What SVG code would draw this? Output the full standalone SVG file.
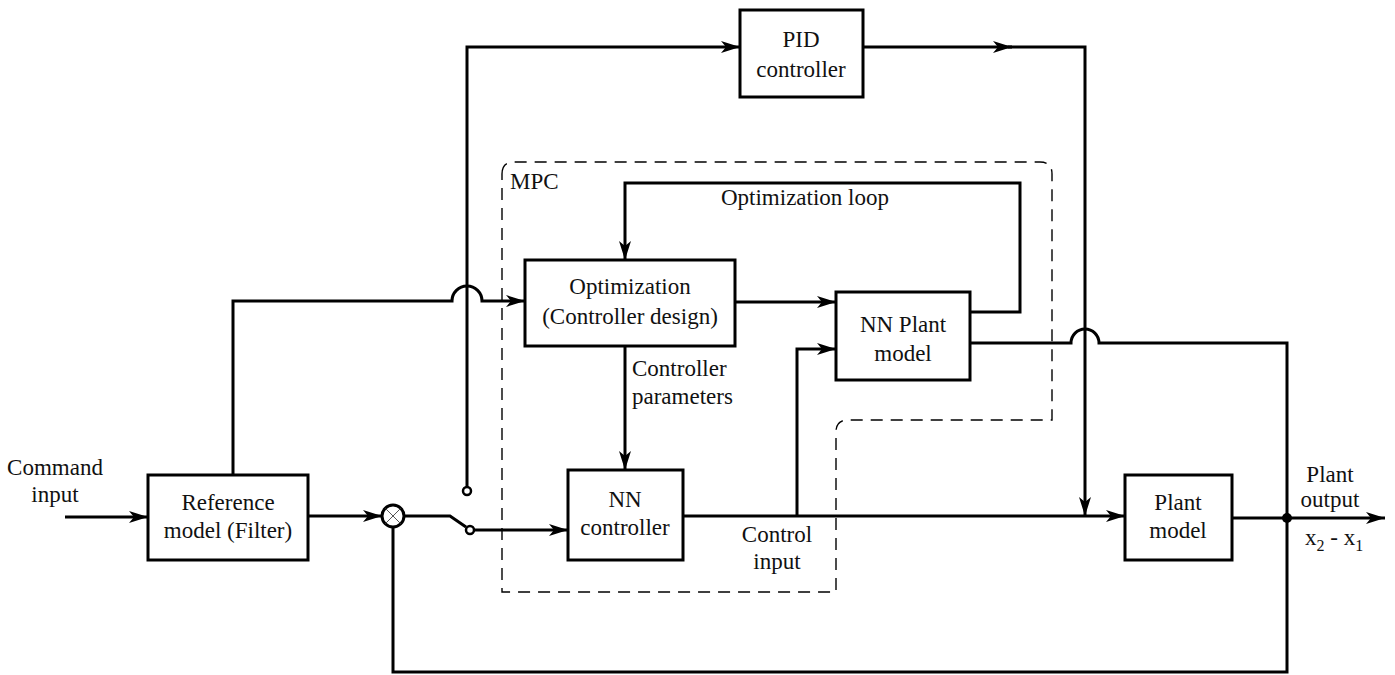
<svg xmlns="http://www.w3.org/2000/svg" width="1395" height="675" viewBox="0 0 1395 675">
<style>
.box{fill:#fff;stroke:#000;stroke-width:3}
.ln{fill:none;stroke:#000;stroke-width:3}
.ar{fill:none;stroke:#000;stroke-width:3;marker-end:url(#ah)}
.dash{fill:none;stroke:#000;stroke-width:1.4;stroke-dasharray:12,8}
text{font-family:"Liberation Serif","Times New Roman",serif;font-size:23px;fill:#111}
.c{text-anchor:middle}
</style>
<defs>
<marker id="ah" markerUnits="userSpaceOnUse" markerWidth="22" markerHeight="16" refX="19" refY="8" orient="auto">
<path d="M0,2 L19,8 L0,14 L5,8 z" fill="#000"/>
</marker>
</defs>
<g id="mpc-boundary">
<path class="dash" d="M502,174 Q502,162 514,162 H1040 Q1052,162 1052,174 V420 H848 Q836,420 836,432 V592 H502 Z"/>
<text x="510" y="189">MPC</text>
</g>
<g id="connectors">
<path class="ar" d="M65,517 H148"/>
<path class="ar" d="M308,516 H382"/>
<path class="ar" d="M233,475 V301 H452 A15,15 0 0 1 482,301 H525"/>
<path class="ln" d="M404,516 H450 L466,527"/>
<circle cx="470" cy="530" r="4" fill="#fff" stroke="#000" stroke-width="2.5"/>
<path class="ar" d="M474,530 H568"/>
<circle cx="467" cy="491" r="4" fill="#fff" stroke="#000" stroke-width="2.5"/>
<path class="ar" d="M467,487 V47 H740"/>
<path class="ar" d="M863,47 H1012"/>
<path class="ar" d="M1008,47 H1085 V516"/>
<path class="ar" d="M683,516 H1125"/>
<path class="ar" d="M797,516 V349 H836"/>
<path class="ar" d="M735,302 H836"/>
<path class="ar" d="M625,346 V470"/>
<path class="ar" d="M970,312 H1020 V183 H625 V260"/>
<path class="ln" d="M970,343 H1071 A14,14 0 0 1 1099,343 H1287 V672 H393 V527"/>
<path class="ar" d="M1232,518 H1385"/>
<circle cx="1287" cy="518" r="5" fill="#000"/>
<text x="805" y="205" class="c">Optimization loop</text>
<text x="632" y="376">Controller</text>
<text x="632" y="404">parameters</text>
<text x="777" y="542" class="c">Control</text>
<text x="777" y="569" class="c">input</text>
</g>
<g id="junction">
<circle cx="393" cy="516" r="11" fill="#fff" stroke="#000" stroke-width="3"/>
<path d="M385.5,508.5 L400.5,523.5 M400.5,508.5 L385.5,523.5" stroke="#555" stroke-width="1"/>
</g>
<g id="pid">
<rect class="box" x="740" y="10" width="123" height="87"/>
<text x="801" y="47" class="c">PID</text>
<text x="801" y="77" class="c">controller</text>
</g>
<g id="optimization">
<rect class="box" x="525" y="260" width="210" height="86"/>
<text x="630" y="294" class="c">Optimization</text>
<text x="630" y="324" class="c">(Controller design)</text>
</g>
<g id="nn-plant">
<rect class="box" x="836" y="292" width="134" height="88"/>
<text x="903" y="332" class="c">NN Plant</text>
<text x="903" y="361" class="c">model</text>
</g>
<g id="nn-controller">
<rect class="box" x="568" y="470" width="115" height="90"/>
<text x="625" y="507" class="c">NN</text>
<text x="625" y="535" class="c">controller</text>
</g>
<g id="reference-model">
<rect class="box" x="148" y="475" width="160" height="85"/>
<text x="228" y="510" class="c">Reference</text>
<text x="228" y="538" class="c">model (Filter)</text>
</g>
<g id="plant-model">
<rect class="box" x="1125" y="475" width="107" height="85"/>
<text x="1178" y="510" class="c">Plant</text>
<text x="1178" y="538" class="c">model</text>
</g>
<g id="labels">
<text x="55" y="475" class="c">Command</text>
<text x="55" y="502" class="c">input</text>
<text x="1330" y="482" class="c">Plant</text>
<text x="1330" y="507" class="c">output</text>
<text x="1305" y="545">x<tspan font-size="16" dy="6">2</tspan><tspan dy="-6"> - x</tspan><tspan font-size="16" dy="6">1</tspan></text>
</g>
</svg>
